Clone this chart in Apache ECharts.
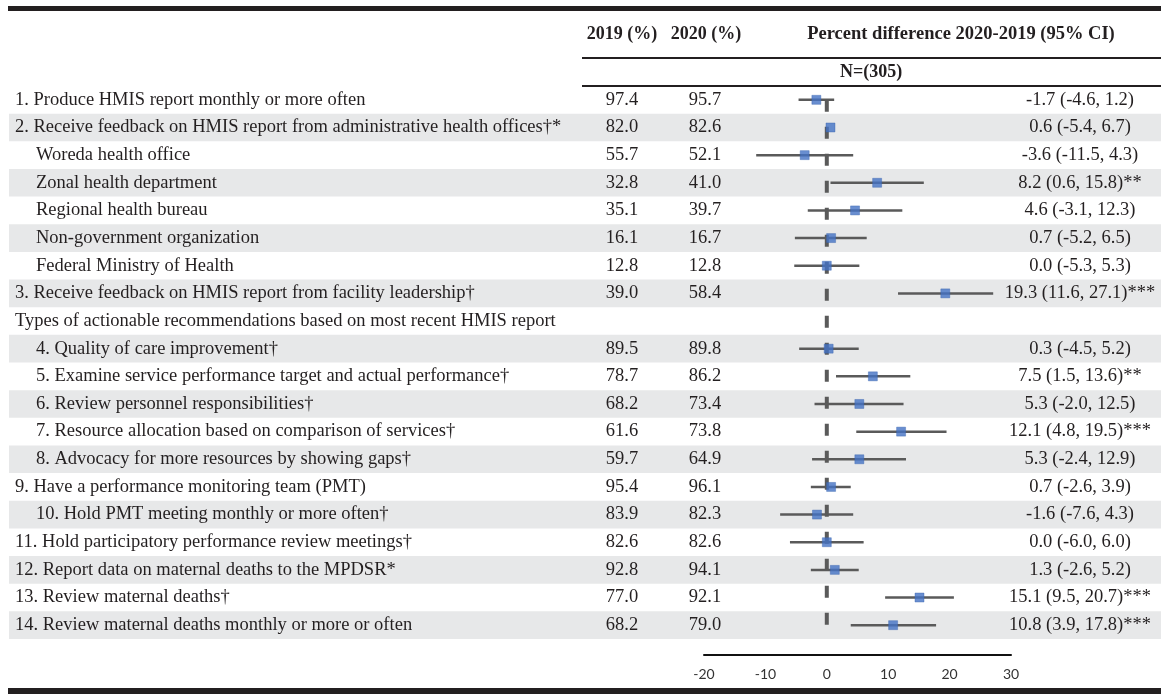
<!DOCTYPE html>
<html><head><meta charset="utf-8">
<script src="https://cdn.jsdelivr.net/npm/echarts@6/dist/echarts.min.js"></script>
<style>html,body{margin:0;padding:0;background:#fff}#c{width:1161px;height:697px}</style>
</head><body><div id="c"></div>
<script>
const labels = [
  '1. Produce HMIS report monthly or more often',
  '2. Receive feedback on HMIS report from administrative health offices\u2020*',
  'Woreda health office',
  'Zonal health department',
  'Regional health bureau',
  'Non-government organization',
  'Federal Ministry of Health',
  '3. Receive feedback on HMIS report from facility leadership\u2020',
  'Types of actionable recommendations based on most recent HMIS report',
  '4. Quality of care improvement\u2020',
  '5. Examine service performance target and actual performance\u2020',
  '6. Review personnel responsibilities\u2020',
  '7. Resource allocation based on comparison of services\u2020',
  '8. Advocacy for more resources by showing gaps\u2020',
  '9. Have a performance monitoring team (PMT)',
  '10. Hold PMT meeting monthly or more often\u2020',
  '11. Hold participatory performance review meetings\u2020',
  '12. Report data on maternal deaths to the MPDSR*',
  '13. Review maternal deaths\u2020',
  '14. Review maternal deaths monthly or more or often'
];
const indent = [0,0,1,1,1,1,1,0,0,1,1,1,1,1,0,1,0,0,0,0];
const pct2019 = [97.4,82.0,55.7,32.8,35.1,16.1,12.8,39.0,null,89.5,78.7,68.2,61.6,59.7,95.4,83.9,82.6,92.8,77.0,68.2];
const pct2020 = [95.7,82.6,52.1,41.0,39.7,16.7,12.8,58.4,null,89.8,86.2,73.4,73.8,64.9,96.1,82.3,82.6,94.1,92.1,79.0];
const diff    = [-1.7,0.6,-3.6,8.2,4.6,0.7,0.0,19.3,null,0.3,7.5,5.3,12.1,5.3,0.7,-1.6,0.0,1.3,15.1,10.8];
const ciLow   = [-4.6,-5.4,-11.5,0.6,-3.1,-5.2,-5.3,11.6,null,-4.5,1.5,-2.0,4.8,-2.4,-2.6,-7.6,-6.0,-2.6,9.5,3.9];
const ciHigh  = [1.2,6.7,4.3,15.8,12.3,6.5,5.3,27.1,null,5.2,13.6,12.5,19.5,12.9,3.9,4.3,6.0,5.2,20.7,17.8];
const sig     = ['','','','**','','','','***','','','**','','***','','','','','','***','***'];
const whiskerShown = [true,false,true,true,true,true,true,true,false,true,true,true,true,true,true,true,true,true,true,true];
const xTicks = [-20,-10,0,10,20,30];
const sampleN = 305;
const headers = ['2019 (%)','2020 (%)','Percent difference 2020-2019 (95% CI)'];

const fmt = v => v == null ? '' : v.toFixed(1);
const ids = labels.map((_, i) => 'r' + i);
const col2019 = pct2019.map(fmt);
const col2020 = pct2020.map(fmt);
const ciText = diff.map((d, i) => d == null ? '' : `${fmt(d)} (${fmt(ciLow[i])}, ${fmt(ciHigh[i])})${sig[i]}`);

const serif = '"Liberation Serif","Times New Roman",serif';
const ink = '#231f20';
const FS = 18.5;
const bodyFont = { fontFamily: serif, fontSize: FS, color: ink };

const whiskerData = [];
const pointData = [];
diff.forEach((d, i) => {
  if (d == null) return;
  pointData.push([d, i]);
  if (whiskerShown[i]) whiskerData.push([ciLow[i], ciHigh[i], i]);
});

function colAxis(texts, position, offset, align) {
  return {
    gridIndex: 1, type: 'category', inverse: true, data: ids, position, offset,
    axisLine: { show: false }, axisTick: { show: false }, splitLine: { show: false },
    axisLabel: Object.assign({ interval: 0, margin: 0, align, formatter: (v, idx) => texts[idx] }, bodyFont)
  };
}

const chart = echarts.init(document.getElementById('c'), null, { renderer: 'canvas' });
chart.setOption({
  animation: false,
  grid: [
    { left: 9, right: 0, top: 86, height: 553 },
    { left: 704, right: 150, top: 86, height: 553 }
  ],
  xAxis: [
    { gridIndex: 0, type: 'value', show: false, min: 0, max: 1 },
    { gridIndex: 1, type: 'value', min: xTicks[0], max: xTicks[xTicks.length - 1], interval: 10, offset: 16,
      axisLine: { show: true, lineStyle: { color: '#111', width: 2 } },
      axisTick: { show: false }, splitLine: { show: false },
      axisLabel: { margin: 12, fontFamily: 'Lato, "Open Sans", sans-serif', fontSize: 14, color: '#333' } }
  ],
  yAxis: [
    { gridIndex: 0, type: 'category', inverse: true, data: ids,
      axisLine: { show: false }, axisTick: { show: false },
      splitArea: { show: true, areaStyle: { color: ['rgba(255,255,255,0)', '#e7e8e9'] } },
      axisLabel: { interval: 0, align: 'left', margin: -6,
        formatter: (v, idx) => indent[idx] ? '{ind|' + labels[idx] + '}' : '{base|' + labels[idx] + '}',
        rich: {
          base: { fontFamily: serif, fontSize: FS, color: ink },
          ind: { fontFamily: serif, fontSize: FS, color: ink, padding: [0, 0, 0, 21] }
        } } },
    { gridIndex: 1, type: 'category', inverse: true, data: ids, show: false },
    colAxis(col2019, 'left', 82, 'center'),
    colAxis(col2020, 'left', -1, 'center'),
    colAxis(ciText, 'right', 69, 'center')
  ],
  series: [
    { type: 'line', xAxisIndex: 1, yAxisIndex: 1, data: [[0, 0], [0, labels.length - 1]],
      symbol: 'none', z: 2, silent: true,
      lineStyle: { color: '#5a5a5a', width: 4, type: [12, 15], dashOffset: 0 } },
    { type: 'custom', xAxisIndex: 1, yAxisIndex: 1, data: whiskerData, z: 3, silent: true,
      encode: { x: [0, 1], y: 2 },
      renderItem: (params, api) => {
        const a = api.coord([api.value(0), api.value(2)]);
        const b = api.coord([api.value(1), api.value(2)]);
        return { type: 'line', shape: { x1: a[0], y1: a[1], x2: b[0], y2: b[1] },
          style: { stroke: '#5a5a5a', lineWidth: 2.5 } };
      } },
    { type: 'scatter', xAxisIndex: 1, yAxisIndex: 1, data: pointData, z: 4, silent: true,
      symbol: 'rect', symbolSize: 9,
      itemStyle: { color: '#4472c4', borderColor: '#3a64b0', borderWidth: 0.5 } }
  ],
  graphic: [
    { type: 'rect', shape: { x: 8, y: 6, width: 1153, height: 5 }, style: { fill: ink } },
    { type: 'rect', shape: { x: 582, y: 57, width: 579, height: 2 }, style: { fill: ink } },
    { type: 'rect', shape: { x: 582, y: 85, width: 579, height: 2 }, style: { fill: ink } },
    { type: 'rect', shape: { x: 8, y: 688, width: 1153, height: 6 }, style: { fill: ink } },
    { type: 'text', x: 622, y: 34, style: { text: headers[0], font: 'bold 18px ' + serif, align: 'center', verticalAlign: 'middle', fill: ink } },
    { type: 'text', x: 706, y: 34, style: { text: headers[1], font: 'bold 18px ' + serif, align: 'center', verticalAlign: 'middle', fill: ink } },
    { type: 'text', x: 961, y: 34, style: { text: headers[2], font: 'bold 18.5px ' + serif, align: 'center', verticalAlign: 'middle', fill: ink } },
    { type: 'text', x: 871, y: 72, style: { text: 'N=(' + sampleN + ')', font: 'bold 18px ' + serif, align: 'center', verticalAlign: 'middle', fill: ink } }
  ]
});
</script></body></html>
